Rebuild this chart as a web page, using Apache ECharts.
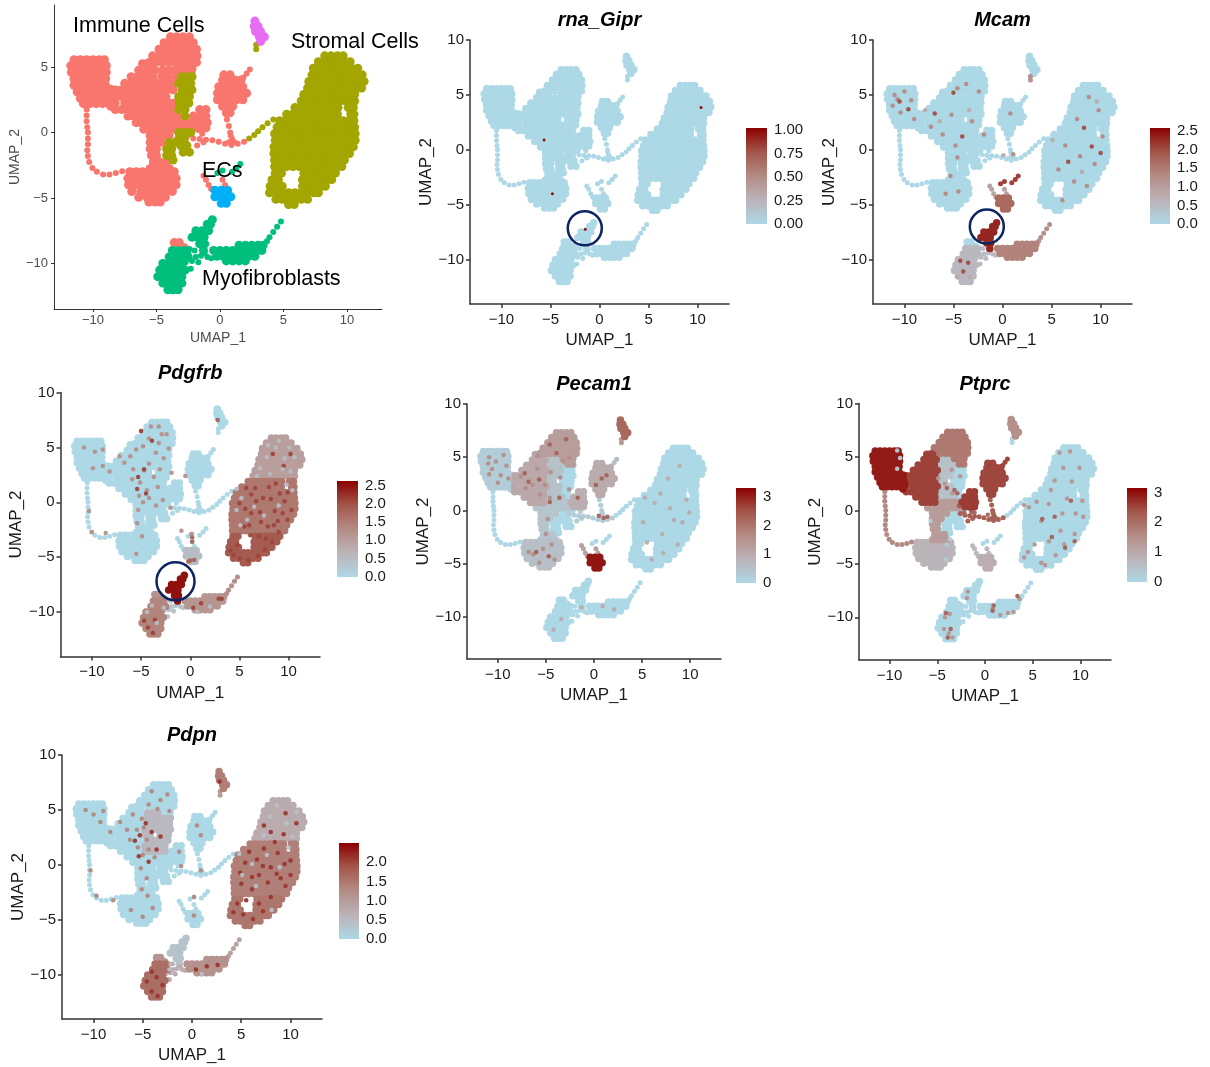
<!DOCTYPE html>
<html><head><meta charset="utf-8">
<script src="https://cdn.jsdelivr.net/npm/echarts@6/dist/echarts.min.js"></script>
<style>html,body{margin:0;padding:0;background:#fff}#c{width:1210px;height:1067px}</style></head>
<body><div id="c"></div>
<script>
// ---- UMAP regions, as [y,[x,x,...]] rows
const immuneLeft=[[5.55,[-11.5,-11,-10.5,-10,-9.5,-9.1]],[5.1,[-11.75,-11.25,-10.75,-10.25,-9.75,-9.25,-8.95]],[4.6,[-11.7,-11.25,-10.75,-10.25,-9.75,-9.25,-8.95]],[4.1,[-11.5,-11,-10.5,-10,-9.5,-9]],[3.6,[-11.5,-11,-10.5,-10,-9.5,-9]],[3.3,[-8.6]],[3.1,[-11.25,-10.75,-10.25,-9.75,-9.25,-8.75]],[2.9,[-8.55]],[2.6,[-11,-10.5,-10,-9.5,-9,-8.5]],[2.4,[-8.4]],[2.2,[-10.75,-10.25,-9.75,-9.25,-8.75]],[2,[-8.6]]];
const immuneBand=[[5.25,[-6.1,-5.5]],[4.75,[-6.4,-6,-5.5,-5.1]],[4.25,[-7,-6.5,-6,-5.5,-5.3]],[3.75,[-7.5,-7,-6.5,-6,-5.5,-5]],[3.25,[-8.2,-7.75,-7.25,-6.75,-6.25,-5.75,-5.25]],[2.75,[-8.25,-7.75,-7.25,-6.75,-6.25,-5.75,-5.25]],[2.25,[-8.25,-7.5,-7,-6.5,-6,-5.5,-5]],[1.75,[-8.25,-7.75,-7.25,-6.75,-6.25,-5.75,-5.25]],[1.25,[-7.25,-6.75,-6.25,-5.75,-5.25]],[0.75,[-6.6,-6.25,-5.75,-5.25]]];
const immuneTop=[[7.3,[-3.9,-3.4,-2.9,-2.4]],[6.85,[-4.4,-3.9,-3.4,-2.9,-2.4,-2.1]],[6.35,[-4.8,-4.3,-3.8,-3.3,-2.8,-2.3,-1.85]],[5.85,[-5.3,-4.8,-4.3,-3.8,-3.3,-2.8,-2.3,-1.8]],[5.35,[-5.6,-5.1,-4.6,-4.1,-3.6,-3.1,-2.6,-2.1,-1.85]],[4.85,[-3.2,-2.7,-2.2]],[4.35,[-2.7,-2.25]]];
const mixedLeft=[[4.75,[-4.5,-4,-3.5]],[4.25,[-4.6,-4.1,-3.5]],[3.75,[-4.5,-4,-3.5]],[3.25,[-4.75,-4.25,-3.7]],[2.75,[-4.75,-4.25]],[2.25,[-4.5,-4,-3.6]],[1.75,[-4.75,-4.25,-3.75]],[1.25,[-4.75,-4.25,-3.75,-3.3]]];
const mixedRight=[[4.25,[-3,-2.5,-2.2]],[3.75,[-3.25,-2.75,-2.3]],[3.25,[-3,-2.5,-2.2]],[2.75,[-3.25,-2.75,-2.4]],[2.25,[-3.2,-2.6,-2.45]],[1.75,[-3.25,-2.75]],[1.25,[-2.75]]];
const immuneStem=[[0.75,[-4.75,-4.25,-3.75,-3.25,-2.75]],[0.25,[-6,-5.5,-5,-4.5,-4,-3.5,-3,-2.6]],[-0.25,[-5.5,-5,-4.5,-4]],[-0.75,[-5.5,-5,-4.6]],[-1.25,[-5.5,-5]],[-1.75,[-5.4,-5]],[-2.25,[-5.25,-4.75,-4.25]],[-2.75,[-5.5,-5,-4.5,-4]]];
const immuneBottom=[[-3,[-7.1,-6.6,-6.1,-5.6,-5.1,-4.6,-4.1,-3.6]],[-3.5,[-7.25,-6.75,-6.25,-5.75,-5.25,-4.75,-4.25,-3.75,-3.45]],[-4,[-7.2,-6.7,-6.2,-5.7,-5.2,-4.7,-4.2,-3.7,-3.45]],[-4.5,[-6.95,-6.25,-5.75,-5.25,-4.75,-4.25,-3.75]],[-4.95,[-6.4,-5.75,-5.25,-4.75,-4.3]],[-5.3,[-5.6,-5.1,-4.7]]];
const immuneRing=[[1.75,[-10.5]],[1.3,[-10.5]],[0.85,[-10.5]],[0.4,[-10.45]],[0,[-10.4]],[-0.45,[-10.4]],[-0.9,[-10.4]],[-1.35,[-10.45]],[-1.8,[-10.4]],[-2.25,[-10.3]],[-2.7,[-10.05]],[-3,[-9.7]],[-3.2,[-9.2,-8.7]],[-3.1,[-8.2]],[-2.95,[-7.7]]];
const myeloid=[[4.4,[0.3,0.8]],[4,[0.2,0.7,1.2,1.65]],[3.5,[-0.1,0.4,0.9,1.4,1.8]],[3,[-0.2,0.3,0.8,1.3,1.8,2.1]],[2.5,[-0.2,0.3,0.8,1.3,1.8]],[2,[0.2,0.7,1]],[1.5,[0.5,0.8]]];
const myeloidSpike=[[4.8,[2.35]],[4.5,[2.1]],[4.2,[1.85]]];
const myeloidArc=[[1,[0.55]],[0.5,[0.7]],[0,[0.8]],[-0.3,[-2.6]],[-0.45,[-2.1]],[-0.5,[-1.6,0.95]],[-0.55,[-1.1]],[-0.6,[-0.6]],[-0.7,[-0.1,1.9]],[-0.85,[0.4,1.4]],[-0.95,[0.9]],[0.2,[-1.7]],[-0.1,[-1.4]],[0.4,[-2.7]],[-1,[-1.8]],[-0.25,[0.85]],[-0.75,[-1.3,0.7,1.15]]];
const smallBlob=[[1.75,[-1.6,-1.1]],[1.25,[-2.1,-1.6,-1.1]],[0.75,[-2.4,-1.9,-1.4,-1]],[0.35,[-2.1,-1.5,-1.1]]];
const olivePatch=[[0,[-3.25,-2.75,-2.3]],[-0.5,[-3.25,-2.8]],[-0.75,[-4,-3.5]],[-1,[-3.1,-2.6]],[-1.25,[-4.2,-3.8]],[-1.5,[-2.9,-2.4]],[-1.75,[-4.2,-3.8]],[-2.1,[-3.7]]];
const stromalTop=[[5.85,[8.25,8.75,9.25,9.7]],[5.4,[7.75,8.25,8.75,9.25,9.75,10.25]],[4.9,[7.35,7.85,8.35,8.85,9.35,9.85,10.35,10.85]],[4.4,[7.25,7.75,8.25,8.75,9.25,9.75,10.25,10.75,11.2]],[3.9,[7,7.5,8,8.5,9,9.5,10,10.5,11,11.35]],[3.4,[6.9,7.4,7.9,8.4,8.9,9.4,9.9,10.4,10.9,11.15]],[2.9,[6.6,7.1,7.6,8.1,8.6,9.1,9.6,10.1,10.6]],[2.4,[6.4,6.9,7.4,7.9,8.4,8.9,9.4,9.9,10.4,10.6]]];
const stromalBody=[[1.9,[5.9,6.4,6.9,7.4,7.9,8.4,8.9,9.3,10.1,10.5]],[1.4,[5.25,5.75,6.25,6.75,7.25,7.75,8.25,8.75,9.25,10.3,10.55]],[0.9,[4.7,5.2,5.7,6.2,6.7,7.2,7.7,8.2,8.7,9.2,9.7,10.2,10.55]],[0.4,[4.5,5,5.5,6,6.5,7,7.5,8,8.5,9,9.5,10,10.5,10.6]],[-0.1,[4.3,4.75,5.25,5.75,6.25,6.75,7.25,7.75,8.25,8.75,9.25,9.75,10.25,10.65]],[-0.6,[4.35,4.85,5.35,5.85,6.35,6.85,7.35,7.85,8.35,8.85,9.35,9.85,10.35,10.65]],[-1.1,[4.25,4.75,5.25,5.75,6.25,6.75,7.25,7.75,8.25,8.75,9.25,9.75,10.25,10.5]],[-1.6,[4.25,4.75,5.25,5.75,6.25,6.75,7.25,7.75,8.25,8.75,9.25,9.75,10.2]],[-2.1,[4.3,4.8,5.3,5.8,6.3,6.8,7.3,7.8,8.3,8.8,9.3,9.8]],[-2.6,[4.3,4.75,5.25,5.75,6.25,6.75,7.25,7.75,8.25,8.75,9.25,9.6]]];
const stromalBottom=[[-3.1,[4.35,4.85,6.6,7.1,7.6,8.1,8.6,9.1]],[-3.6,[4.1,4.6,6.5,7,7.5,8,8.5,8.8]],[-4.1,[3.95,4.45,4.9,6.5,7,7.5,8,8.3]],[-4.6,[3.9,4.4,4.9,5.4,5.9,6.4,6.9,7.4,7.75]],[-5.1,[4.4,4.9,5.4,5.9,6.4,6.9]],[-5.5,[5.4,5.85]]];
const stromalArm=[[1,[4.2]],[0.7,[3.75]],[0.4,[3.35]],[0.1,[3]],[-0.2,[2.7]],[-0.45,[2.3]]];
const myoLeft=[[-9,[-3.75,-3.25,-2.75]],[-9.5,[-4,-3.5,-3,-2.5]],[-10,[-4.5,-4,-3.5,-3]],[-10.5,[-4.75,-4.25,-3.75,-3.25,-2.75]],[-11,[-4.9,-4.5,-4,-3.5,-3]],[-11.5,[-4.5,-4,-3.5,-3]],[-12,[-4.1,-3.7,-3.3]]];
const myoPinkTip=[[-8.4,[-3.6,-3.2]],[-8.8,[-3.5,-3,-2.8]]];
const myoLink=[[-9.2,[-2.5,-1.2]],[-9,[-2]],[-9.4,[-1.5]],[-9.8,[-2.2]],[-9.9,[-1.7,-2.7]],[-9.5,[-1,-1.9]],[-8.9,[-2.4]],[-9.6,[-0.7]],[-10.4,[-2.3]]];
const myoMid=[[-8.6,[1.5,2,2.5,3,3.4]],[-9,[-0.5,0,0.5,1,1.5,2,2.5,3,3.3]],[-9.45,[-0.25,0.25,0.75,1.25,1.75,2.25,2.75]],[-9.8,[0.5,1,1.5,2]]];
const myoTail=[[-8.3,[3.7]],[-8,[3.9]],[-7.6,[4.2]],[-7.2,[4.5]],[-6.8,[4.8]]];
const myoCap=[[-6.65,[-0.6]],[-7,[-1,-0.75]],[-7.5,[-1.9,-1.4,-1,-0.9]],[-8,[-2.2,-1.75,-1.25]],[-8.5,[-1.6,-1.2]],[-9,[-1.3]]];
const ecBlob=[[-4.4,[-0.4,0.1,0.6]],[-4.9,[-0.4,0.1,0.6,0.85]],[-5.4,[0.1,0.5]]];
const ecNeck=[[-3.3,[-1.3]],[-3.6,[-1.1]],[-4,[-0.9]],[-4.3,[-0.7]],[-3.6,[0.2]],[-4,[0.4]]];
const ecSpur=[[-2.9,[0.2]],[-3.1,[-0.2]],[-3,[0.95]],[-2.7,[1.3]],[-2.4,[1.6]]];
const pdcCells=[[8.5,[2.75]],[8.1,[2.7,3]],[7.7,[2.8,3.2]],[7.3,[3.1,3.5]],[6.95,[3.2]]];
const pdcTail=[[6.7,[2.85]],[6.35,[2.85]]];
const allRegions=[immuneLeft,immuneBand,immuneTop,mixedLeft,mixedRight,immuneStem,immuneBottom,immuneRing,myeloid,myeloidSpike,myeloidArc,smallBlob,olivePatch,stromalTop,stromalBody,stromalBottom,stromalArm,myoLeft,myoPinkTip,myoLink,myoMid,myoTail,myoCap,ecBlob,ecNeck,ecSpur,pdcCells,pdcTail];
const thinRegions=[immuneRing,myeloidSpike,myeloidArc,stromalArm,myoTail,myoLink,ecNeck,ecSpur,pdcTail];

// ---- expression level per region, per gene
const gipLevels=[];
const mcamLevels=[[ecBlob,1.7],[ecNeck,0.9],[ecSpur,2.1],[myoCap,2.3],[myoMid,1.4],[myoTail,1.2],[myoLeft,0.55],[myoLink,0.5],[pdcTail,1.2]];
const pdgfrbLevels=[[stromalTop,1.0],[stromalBody,1.55],[stromalBottom,1.9],[myoLeft,1.4],[myoPinkTip,1.2],[myoLink,0.35],[myoMid,1.15],[myoTail,1.3],[myoCap,2.5],[ecBlob,0.5]];
const pecamLevels=[[immuneTop,1.3],[immuneBand,1.05],[immuneLeft,0.25],[immuneBottom,0.55],[immuneStem,0.45],[mixedLeft,0.5],[myeloid,1.0],[myeloidSpike,0.6],[smallBlob,0.9],[myeloidArc,0.3],[ecBlob,3.1],[ecNeck,1.2],[pdcCells,2.2],[pdcTail,1.4]];
const ptprcLevels=[[immuneLeft,2.9],[immuneBand,2.55],[immuneTop,1.85],[mixedLeft,0.5],[immuneStem,1.25],[immuneBottom,0.75],[immuneRing,1.6],[myeloid,2.5],[myeloidSpike,2.5],[myeloidArc,2.2],[smallBlob,2.6],[ecBlob,0.9],[ecNeck,0.7],[pdcCells,1.5]];
const pdpnLevels=[[stromalTop,0.75],[stromalBody,1.4],[stromalBottom,1.5],[myoLeft,1.6],[myoPinkTip,1.1],[myoMid,1.15],[myoTail,0.9],[myoLink,0.7],[myoCap,0.35],[pdcCells,1.4],[pdcTail,1],[mixedLeft,0.55],[mixedRight,0.5]];

// ---- individually visible cells, as [level,[x,y,x,y,...]]
const gipCells=[[1,[-5.65,0.9,-4.8,-4,-1.45,-7.25,10.35,3.85]]];
const mcamCells=[[1.3,[-11,5,-10.7,4.6,-11.2,4,-10,5.3,-9.3,4.5,-10.4,3.4,-9,2.8,-7.3,2.1,-5.2,3.2,-6.1,1.4,-4.8,0.4,-4.6,-0.7,-5.3,-2.4,-3.7,6,-2.4,5.3,-4.6,5.6,-3.1,2.6,-1.9,1.4,0.8,3.3,1.1,-0.4,-5.8,-4,-4.5,-3.8,8.8,4.8,9.8,3.6,7.6,2.8,10.2,1.2,6.4,0.4,7.9,-0.6,9.4,-1.3,5.7,-1.8,7.3,-2.9,8.6,-3.3,6.1,-4.6]],[2,[-10.5,4.4,-9.6,3.7,-6.9,3.3,-4.1,1.2,-5,5.2,8.3,2,9.1,0.3,6.7,-1.1,10,-0.3,-4,-11.1,-3.5,-10.3,-4.3,-10.1]],[0.8,[-7.9,3.6,-6.4,2.6,-3.4,3.6,0.1,-0.5,5.1,0.9,8.1,-2,9.6,4.4,-4.6,-11.6,-3.3,-11.6]]];
const pdgfrbCells=[[1.25,[-10.8,5,-9.7,4.6,-8.9,4.8,-9.9,3.1,-8.9,3.3,-8.2,2.8,-7.2,4.2,-6.7,3.6,-6.1,4.2,-5.8,3,-5.5,4.8,-5.9,2.1,-5.1,1.8,-4.7,2.9,-4.2,3.5,-3.5,4.5,-3.2,5.4,-2.9,6.2,-4.2,5.8,-4.8,5.1,-5,6.5,-4,6.9,-3.2,6.9,-2.4,6.2,-2.2,4.9,-2.7,4,-3.1,3,-3.7,2.3,-3.3,1.4,-4.4,1.1,-5.2,0.6,-4.8,0,-5.3,-0.7,-4.2,0.4,-3.5,-0.3,-2.8,0.2,-2,-0.5,-10.3,-0.8,-10,-2.7,-8.6,-2.8,-5.4,-1.9,-5.5,-4.7,-4.9,-3.1,-1.9,2.7,-0.5,2.4,-0.9,-2.6,0.1,-2.9]],[2.1,[-5,6.5,-4.7,3,-5.4,1.2,-5.3,2.3,-4.5,0.8,-3.9,5.6,4.1,-4.4,4.4,-4.8,5,-5.1,5.9,-5.3,6.9,-4.9,7.6,-4.3,6.2,-1,7.4,0.4,8.6,-0.8,9.9,-1.6,7.9,-2.2,9.1,0.8,6.6,1.3,5.6,-0.6,7,-3.1,8.3,-3.6,9,-2.7,6.1,-3,8,1.4,9.6,0.1,10.3,-0.7,5.7,1.3,7.2,-1.8,5.5,-2.2,4.8,-3.9,-4.7,-10.8,-3.8,-11.9,-3.6,-10.7,-4.3,-11.4,1.1,-9.2,2.9,-8.8,0.3,-9.6,3.2,-8.8,6.7,0.1,8.2,0.3,9.4,-1,7.1,-0.9,8.7,1.7,6.2,0.7,5,-0.1,6,-2.1,7.7,-3.3,8.5,-2.1,9.9,0.9,8.9,-1.7,9.5,3.3,8.4,4.4,10.2,4.4]],[0.5,[8.7,5,9.6,4,7.8,4.1,10.1,5,10.6,4.1,8.1,2.6,9.4,3,10.2,2.8,7.1,3.1,6.8,2.4,4.7,1.2,4.7,-0.7,5.1,-2.1,5.2,0.4,9.8,1.6,10.4,1.1,7.9,5.2,9,5.6,-4.4,-10,-3.9,-9.4,-3.4,-11,-2.7,-9.6,0.7,-10,2,-9.5,7.5,-1.2,9,-0.3,6.5,-0.4,5.8,-1.6]],[1.8,[0,-5.3,0.4,-5.25,-0.2,-5.4,0.2,-3.6,0.2,-3.2,2.8,7.5]]];
const pecamCells=[[1.6,[-10.9,5,-10.2,4.6,-9.4,5.2,-10.6,3.9,-9.7,3.3,-10.9,3.4,-9.1,4.2,-8.9,3,-10,2.6,-11,4.4,-7.6,3.2,-6.4,2.4,-7.1,2.1,-5.9,3.9,-5.1,2.4,-5.6,1.5,-4.6,1.2,-5.9,5.1,-3.2,4.6,-2.6,5,-3.5,3.1,-2.6,2,-4.5,3.6,-5.3,-3.6,-6.3,-4.1,-4.4,-3.2,-5.7,-4.9,-4.1,-4.6,-6.8,-3.9,-5,-2.2,-4.8,-0.8]],[2.3,[-4.6,6.2,-3.9,5.4,-2.9,6.7,-7.2,3.5,-6.8,2.7,-5.7,2.9,-4.6,0.8,-3.6,1.2,-6,-3.9,-4.7,-4.3,0.8,3,0.2,2.4,1,-0.7,1.4,-0.6,0.5,-0.5,-1.7,1.2,1.3,3.3]],[1,[6.3,0.7,7.9,0.2,9.2,-1.1,5.5,-3,7.1,-2.2,8.7,-3.2,9.6,1,5.3,1.2,8.9,4.2,7.7,3,6,-4.6,5.1,-1.1,6.9,1.6,8.3,-0.9,9.9,-0.2,7.2,-4,-3.4,-10.2,-4.2,-11.2,2.1,-9.3,0.9,-9,-1.3,-9.1]]];
const ptprcCells=[[1.4,[6.7,0.6,8.1,-0.3,5.9,-1,7.9,-1.9,9.4,-2.2,6.7,-2.9,8.3,-3.2,7.4,-4.2,5.2,-3.2,4.5,-3.9,5.4,0.8,6.9,1.9,9.1,2.7,9.9,4,8.9,5.5,7.8,5.4,9.5,-0.3,10.3,-0.6,10.2,0.9,8.6,1.1,5.9,-4.9,6.3,-5.1,4.1,-4.4,4.6,0.3,7.3,2.8,8.2,4,-3.8,-11.5,-4.2,-10,-3.7,-9.7,-4.3,-11.1,-3.4,-11.9,-1.8,-7.6,-1.9,-8.2,0.8,-9.2,1.6,-9.8,2.4,-9.6,3,-9.5,3.6,-8.3,-2.6,3.2,-3.4,1.6,-4.9,3,-3.5,3.8,-4.2,2.5,4.1,0.5]],[2.2,[6,-0.8,7.3,-0.6,7,-2.5,9,0.9,9.4,-2.9,8.4,-3.5,0.9,-8.9,0.8,-9.4,-4.1,-9.6,-3.9,-11.9,-3.6,-11.1,3.4,-8,-4,2.1,-3.2,1.9,-2.9,1.6,-2.2,-0.2,-1.1,-0.2,0.3,-0.4]],[0.25,[-9.2,5.6,-8.9,4.9,-9.2,3.9,-4.1,-4.6,-5.7,-1,-3.7,-2.7,-4,-3.2]]];
const pdpnCells=[[1.3,[-10.8,5,-10,4.6,-9.3,3.9,-9,4.9,-8.3,3,-7.3,3.9,-6.6,3.2,-6,4.6,-6.3,2.3,-5.6,3.2,-5.1,4.2,-4.9,3.4,-4.6,2.3,-5.5,1.6,-5,0.9,-4.4,1.4,-3.8,0.7,-5.2,-0.3,-4.6,-1.2,-5.1,-2.2,-4.5,-2.8,-3.2,5.9,-4.1,6.7,-2.5,6.4,-2.3,4.9,-3.5,5.1,-4.4,5.5,-1.3,1.2,0.5,3.6,0.9,2.7,0.9,-0.5,-1.1,-0.1,-10.3,-0.5,-9.7,-2.8,-8,-3.2,-6.2,-4.1,-5,-4.7,-4,-3.9,0.2,-2.9,0.2,-4.6]],[2.1,[-5.3,2.7,-4.7,3.8,-4.1,3,-3.2,2.6,-4.4,0.3,-5.4,0.8,-5.8,2.2,-3.6,1.4,5,-1.7,6.1,-1.1,7.2,-0.1,8.6,-0.8,9.5,-1.9,6.8,-3.5,8,-2.9,5.2,-4.5,4.6,-3.5,5.8,1.2,7.3,1.5,8.7,1.1,10,0.4,9.3,2.8,8,3,9.5,4.7,10.6,3.8,6.2,-4.9,4.2,-4.3,6.1,-2.2,7.7,-1.6,5.4,0.2,-4.6,-10.6,-4.1,-11.5,-3.5,-11.9,-3.6,-10.2,-3,-10.9,-4.1,-9.7,0.4,-9.5,1.5,-9.2,2.6,-9.1,2.8,7.6,6.6,0.5,8,-0.2,9.4,0.1,6.8,-0.9,5.5,-3.2,7.2,-4.2,4.9,-0.7,9,-1.2,10,-0.9,8.4,2.1,7.3,3.6]],[0.4,[8.6,5.4,9.6,3.8,7.9,4.4,10.6,4.8,10.2,2.6,7.3,2.7,4.8,1,5.1,-0.9,9.8,1.6,8.1,-4.1,-2.3,-9.5,1,-9.9,6.1,0.1,7.6,0.9,8.9,-0.2,6.5,-1.9]]];

// ---- colour scale ticks
const gipTicks=[0,0.25,0.5,0.75,1];
const mcamTicks=[0,0.5,1,1.5,2,2.5];
const pdgfrbTicks=[0,0.5,1,1.5,2,2.5];
const pecamTicks=[0,1,2,3];
const ptprcTicks=[0,1,2,3];
const pdpnTicks=[0,0.5,1,1.5,2];
const umapTicks=[-10,-5,0,5,10];
const umapYTicks=[-10,-5,0,5,10];

const thinFlag=r=>thinRegions.includes(r)?1:0;
const flat=r=>{const o=[];r.forEach(([y,xs])=>xs.forEach(x=>o.push([x,y])));return o;};
const scaleColors=['#add8e6','#bcb3b8','#b48c85','#a3564a','#8b0000'];
const minus=s=>String(s).replace('-','\u2212');

const panels=[
 {name:'rna_Gipr',levels:gipLevels,cells:gipCells,ticks:gipTicks,dec:2,max:1.02,g:[470,40,259,264],cb:[746,128,21,96],ring:[-1.5,-7.15,34],ymin:-14.05,yGap:35},
 {name:'Mcam',levels:mcamLevels,cells:mcamCells,ticks:mcamTicks,dec:1,max:2.58,g:[873,40,259,264],cb:[1150,128,20,96],ring:[-1.6,-7.0,34],ymin:-14.05,yGap:33},
 {name:'Pdgfrb',levels:pdgfrbLevels,cells:pdgfrbCells,ticks:pdgfrbTicks,dec:1,max:2.62,g:[60.5,392.5,259.5,264],cb:[337,481,21,96],ring:[-1.5,-7.2,38],ymin:-14.05,yGap:33},
 {name:'Pecam1',levels:pecamLevels,cells:pecamCells,ticks:pecamTicks,dec:0,max:3.3,g:[467,404,254,255],cb:[736,488,20,95],ymin:-13.95,yGap:31},
 {name:'Ptprc',levels:ptprcLevels,cells:ptprcCells,ticks:ptprcTicks,dec:0,max:3.15,g:[859,403.5,252,256.5],cb:[1127,488,20,94],ymin:-14,yGap:32},
 {name:'Pdpn',levels:pdpnLevels,cells:pdpnCells,ticks:pdpnTicks,dec:1,max:2.5,g:[62,755,260,264],cb:[339,843,20,96],ymin:-14,yGap:34}
];

const grid=[],xAxis=[],yAxis=[],series=[],visualMap=[],title=[];
function addAxes(idx,g,xr,yr,fs,col,lw,nameFs,xGap,yGap,tickLen,xm){
 grid.push({left:g[0],top:g[1],width:g[2],height:g[3],containLabel:false});
 const label={color:col,fontSize:fs,fontFamily:'Liberation Sans',formatter:v=>minus(v),margin:6};
 const line={onZero:false,lineStyle:{color:'#333',width:lw}};
 xAxis.push({gridIndex:idx,type:'value',min:xr[0],max:xr[1],splitLine:{show:false},axisLine:line,
  axisTick:{customValues:umapTicks,length:tickLen,lineStyle:{color:'#333',width:lw}},
  axisLabel:Object.assign({customValues:umapTicks},label,{margin:xm}),
  name:'UMAP_1',nameLocation:'middle',nameGap:xGap,nameTextStyle:{color:col,fontSize:nameFs,fontFamily:'Liberation Sans'}});
 yAxis.push({gridIndex:idx,type:'value',min:yr[0],max:yr[1],splitLine:{show:false},axisLine:line,
  axisTick:{customValues:umapYTicks,length:tickLen,lineStyle:{color:'#333',width:lw}},
  axisLabel:Object.assign({customValues:umapYTicks},label),
  name:'UMAP_2',nameLocation:'middle',nameGap:yGap,nameTextStyle:{color:col,fontSize:nameFs,fontFamily:'Liberation Sans'}});
}
// Cluster panel
addAxes(0,[54,5,328,304],[-13.07,12.76],[-13.47,9.73],13,'#4d4d4d',1,14,22,22,3,5);
const clusterDefs=[
 ['#F8766D',[immuneLeft,immuneBand,immuneTop,mixedLeft,immuneStem,immuneBottom,immuneRing,myeloid,myeloidSpike,myeloidArc,smallBlob,myoPinkTip,ecNeck]],
 ['#A3A500',[stromalTop,stromalBody,stromalBottom,stromalArm,mixedRight,olivePatch,pdcTail]],
 ['#00BF7D',[myoLeft,myoLink,myoMid,myoTail,myoCap,ecSpur]],
 ['#00B0F6',[ecBlob]],
 ['#E76BF3',[pdcCells]]];
clusterDefs.forEach(([c,rs])=>series.push({type:'scatter',xAxisIndex:0,yAxisIndex:0,silent:true,animation:false,
 symbolSize:v=>v[2]?6:9,itemStyle:{color:c,opacity:1},
 data:rs.flatMap(r=>flat(r).map(q=>[q[0],q[1],thinFlag(r)]))}));

panels.forEach((p,i)=>{
 const idx=i+1;
 addAxes(idx,p.g,[-13.2,13.2],[p.ymin,10],15,'#1a1a1a',1.5,17,28,p.yGap,4,8);
 const lv=new Map(p.levels);
 const base=allRegions.map(r=>[r,lv.has(r)?lv.get(r):0]).sort((a,b)=>a[1]-b[1]).flatMap(([r,v])=>flat(r).map(q=>[q[0],q[1],v,thinFlag(r)]));
 const speck=[];p.cells.forEach(([v,a])=>{for(let k=0;k<a.length;k+=2)speck.push([a[k],a[k+1],v]);});
 const s0=series.length;
 series.push({type:'scatter',xAxisIndex:idx,yAxisIndex:idx,symbolSize:v=>v[3]?5:7.5,silent:true,animation:false,itemStyle:{opacity:1},data:base});
 series.push({type:'scatter',xAxisIndex:idx,yAxisIndex:idx,symbolSize:p.name==='rna_Gipr'?3:4.5,silent:true,animation:false,itemStyle:{opacity:0.95},data:speck});
 visualMap.push({type:'continuous',show:false,seriesIndex:[s0,s0+1],dimension:2,min:0,max:p.max,inRange:{color:scaleColors}});
 if(p.ring) series.push({type:'scatter',xAxisIndex:idx,yAxisIndex:idx,symbol:'circle',symbolSize:p.ring[2],silent:true,animation:false,z:5,
   itemStyle:{color:'rgba(0,0,0,0)',borderColor:'#0c2461',borderWidth:2.5,opacity:1},data:[[p.ring[0],p.ring[1]]]});
 title.push({text:p.name,left:p.g[0]+p.g[2]/2-5,top:p.g[1]-34.5,textAlign:'center',
   textStyle:{fontSize:20,fontWeight:'bold',fontStyle:'italic',color:'#000',fontFamily:'Liberation Sans'}});
});
// Colour bars
panels.forEach((p,i)=>{
 const idx=panels.length+1+i;
 grid.push({left:p.cb[0],top:p.cb[1],width:p.cb[2],height:p.cb[3]});
 xAxis.push({gridIndex:idx,type:'category',data:[p.name],show:false});
 yAxis.push({gridIndex:idx,type:'value',position:'right',min:0,max:p.max,splitLine:{show:false},axisLine:{show:false},
  axisTick:{customValues:p.ticks,inside:true,length:4,lineStyle:{color:'#fff',width:1}},
  axisLabel:{customValues:p.ticks,color:'#1a1a1a',fontSize:15,fontFamily:'Liberation Sans',margin:7,formatter:v=>v.toFixed(p.dec)}});
 series.push({type:'bar',xAxisIndex:idx,yAxisIndex:idx,barWidth:'100%',silent:true,animation:false,data:[p.max],
  itemStyle:{color:new echarts.graphic.LinearGradient(0,1,0,0,scaleColors.map((c,k)=>({offset:k/4,color:c})))}});
});
const chart=echarts.init(document.getElementById('c'),null,{renderer:'canvas'});
const note=(t,x,y)=>({type:'text',left:x,top:y,z:20,silent:true,style:{text:t,fill:'#000',font:'21.5px "Liberation Sans"'}});
chart.setOption({animation:false,backgroundColor:'#fff',title,grid,xAxis,yAxis,series,visualMap,
 graphic:[note('Immune Cells',73,15),note('Stromal Cells',291,31),note('ECs',202,160),note('Myofibroblasts',202,268)]});
</script></body></html>
